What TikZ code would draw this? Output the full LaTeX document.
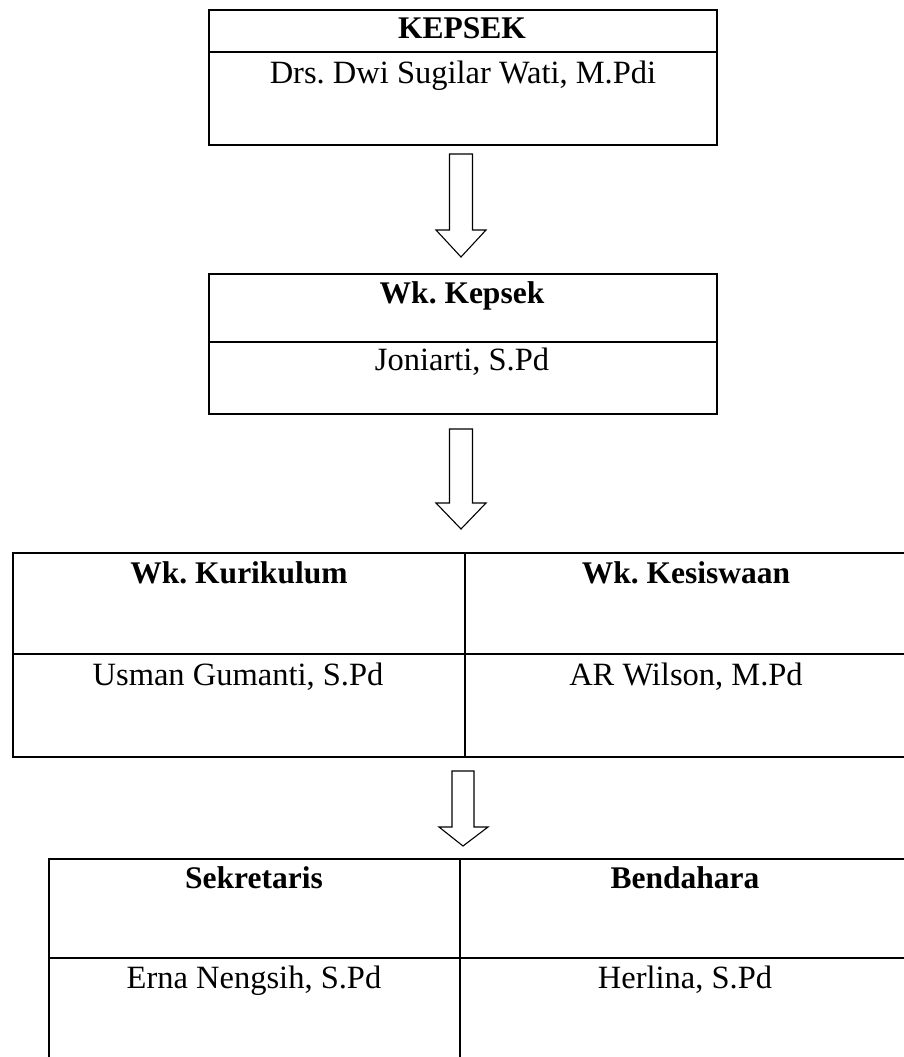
\documentclass[tikz,border=0pt]{standalone}
\usepackage{fontspec}
\setmainfont{Liberation Serif}
\frenchspacing
\begin{document}
\begin{tikzpicture}[x=1pt,y=-1pt,
  frame/.style={draw=black,line width=1.6pt,inner sep=0pt,anchor=north west},
  rule/.style={draw=black,line width=1.6pt},
  blockarrow/.style={draw=black,line width=1.1pt,fill=white,line join=miter},
  titletext/.style={font=\fontsize{31.5}{36}\selectfont\bfseries,anchor=base,inner sep=0pt},
  persontext/.style={font=\fontsize{32.5}{38}\selectfont,anchor=base,inner sep=0pt}]
\useasboundingbox (0,0) rectangle (904,1057);
\clip (0,0) rectangle (904,1057);

% --- Kepala sekolah
\node[frame,minimum width=508pt,minimum height=135pt] (kepsek) at (208,9) {};
\draw[rule] (208,52) coordinate (k1) -- (716,52) coordinate (k2);
\node[titletext] (kepsekT) at (462,38) {KEPSEK};
\node[persontext] (kepsekN) at (463,83) {Drs. Dwi Sugilar Wati, M.Pdi};

% --- Wakil kepala sekolah
\node[frame,minimum width=508pt,minimum height=140pt] (wk) at (208,273) {};
\draw[rule] (208,342) coordinate (w1) -- (716,342) coordinate (w2);
\node[titletext] (wkT) at (462,303) {Wk. Kepsek};
\node[persontext] (wkN) at (462,370) {Joniarti, S.Pd};

% --- Kurikulum / Kesiswaan
\node[frame,minimum width=895pt,minimum height=204pt] (mid) at (12,552) {};
\draw[rule] (12,654) coordinate (m1) -- (907,654) coordinate (m2);
\draw[rule] (465,552) coordinate (m3) -- (465,756) coordinate (m4);
\node[titletext] (kurT) at (239,583) {Wk. Kurikulum};
\node[titletext] (kesT) at (686,583) {Wk. Kesiswaan};
\node[persontext] (kurN) at (238,685) {Usman Gumanti, S.Pd};
\node[persontext] (kesN) at (686,685) {AR Wilson, M.Pd};

% --- Sekretaris / Bendahara
\node[frame,minimum width=862pt,minimum height=210pt] (bot) at (48,858) {};
\draw[rule] (48,958) coordinate (b1) -- (910,958) coordinate (b2);
\draw[rule] (460,858) coordinate (b3) -- (460,1068) coordinate (b4);
\node[titletext] (sekT) at (254,888) {Sekretaris};
\node[titletext] (benT) at (685,888) {Bendahara};
\node[persontext] (sekN) at (254,988) {Erna Nengsih, S.Pd};
\node[persontext] (benN) at (685,988) {Herlina, S.Pd};

% --- Block arrows
\draw[blockarrow] (449.5,154) -- (472.5,154) -- (472.5,230) -- (486,230) -- (461,257) -- (436,230) -- (449.5,230) -- cycle;
\draw[blockarrow] (449.5,429) -- (472.5,429) -- (472.5,503) -- (486,503) -- (461,529) -- (436,503) -- (449.5,503) -- cycle;
\draw[blockarrow] (452,771) -- (474,771) -- (474,827) -- (488,827) -- (463,846) -- (439,827) -- (452,827) -- cycle;
\end{tikzpicture}
\end{document}
